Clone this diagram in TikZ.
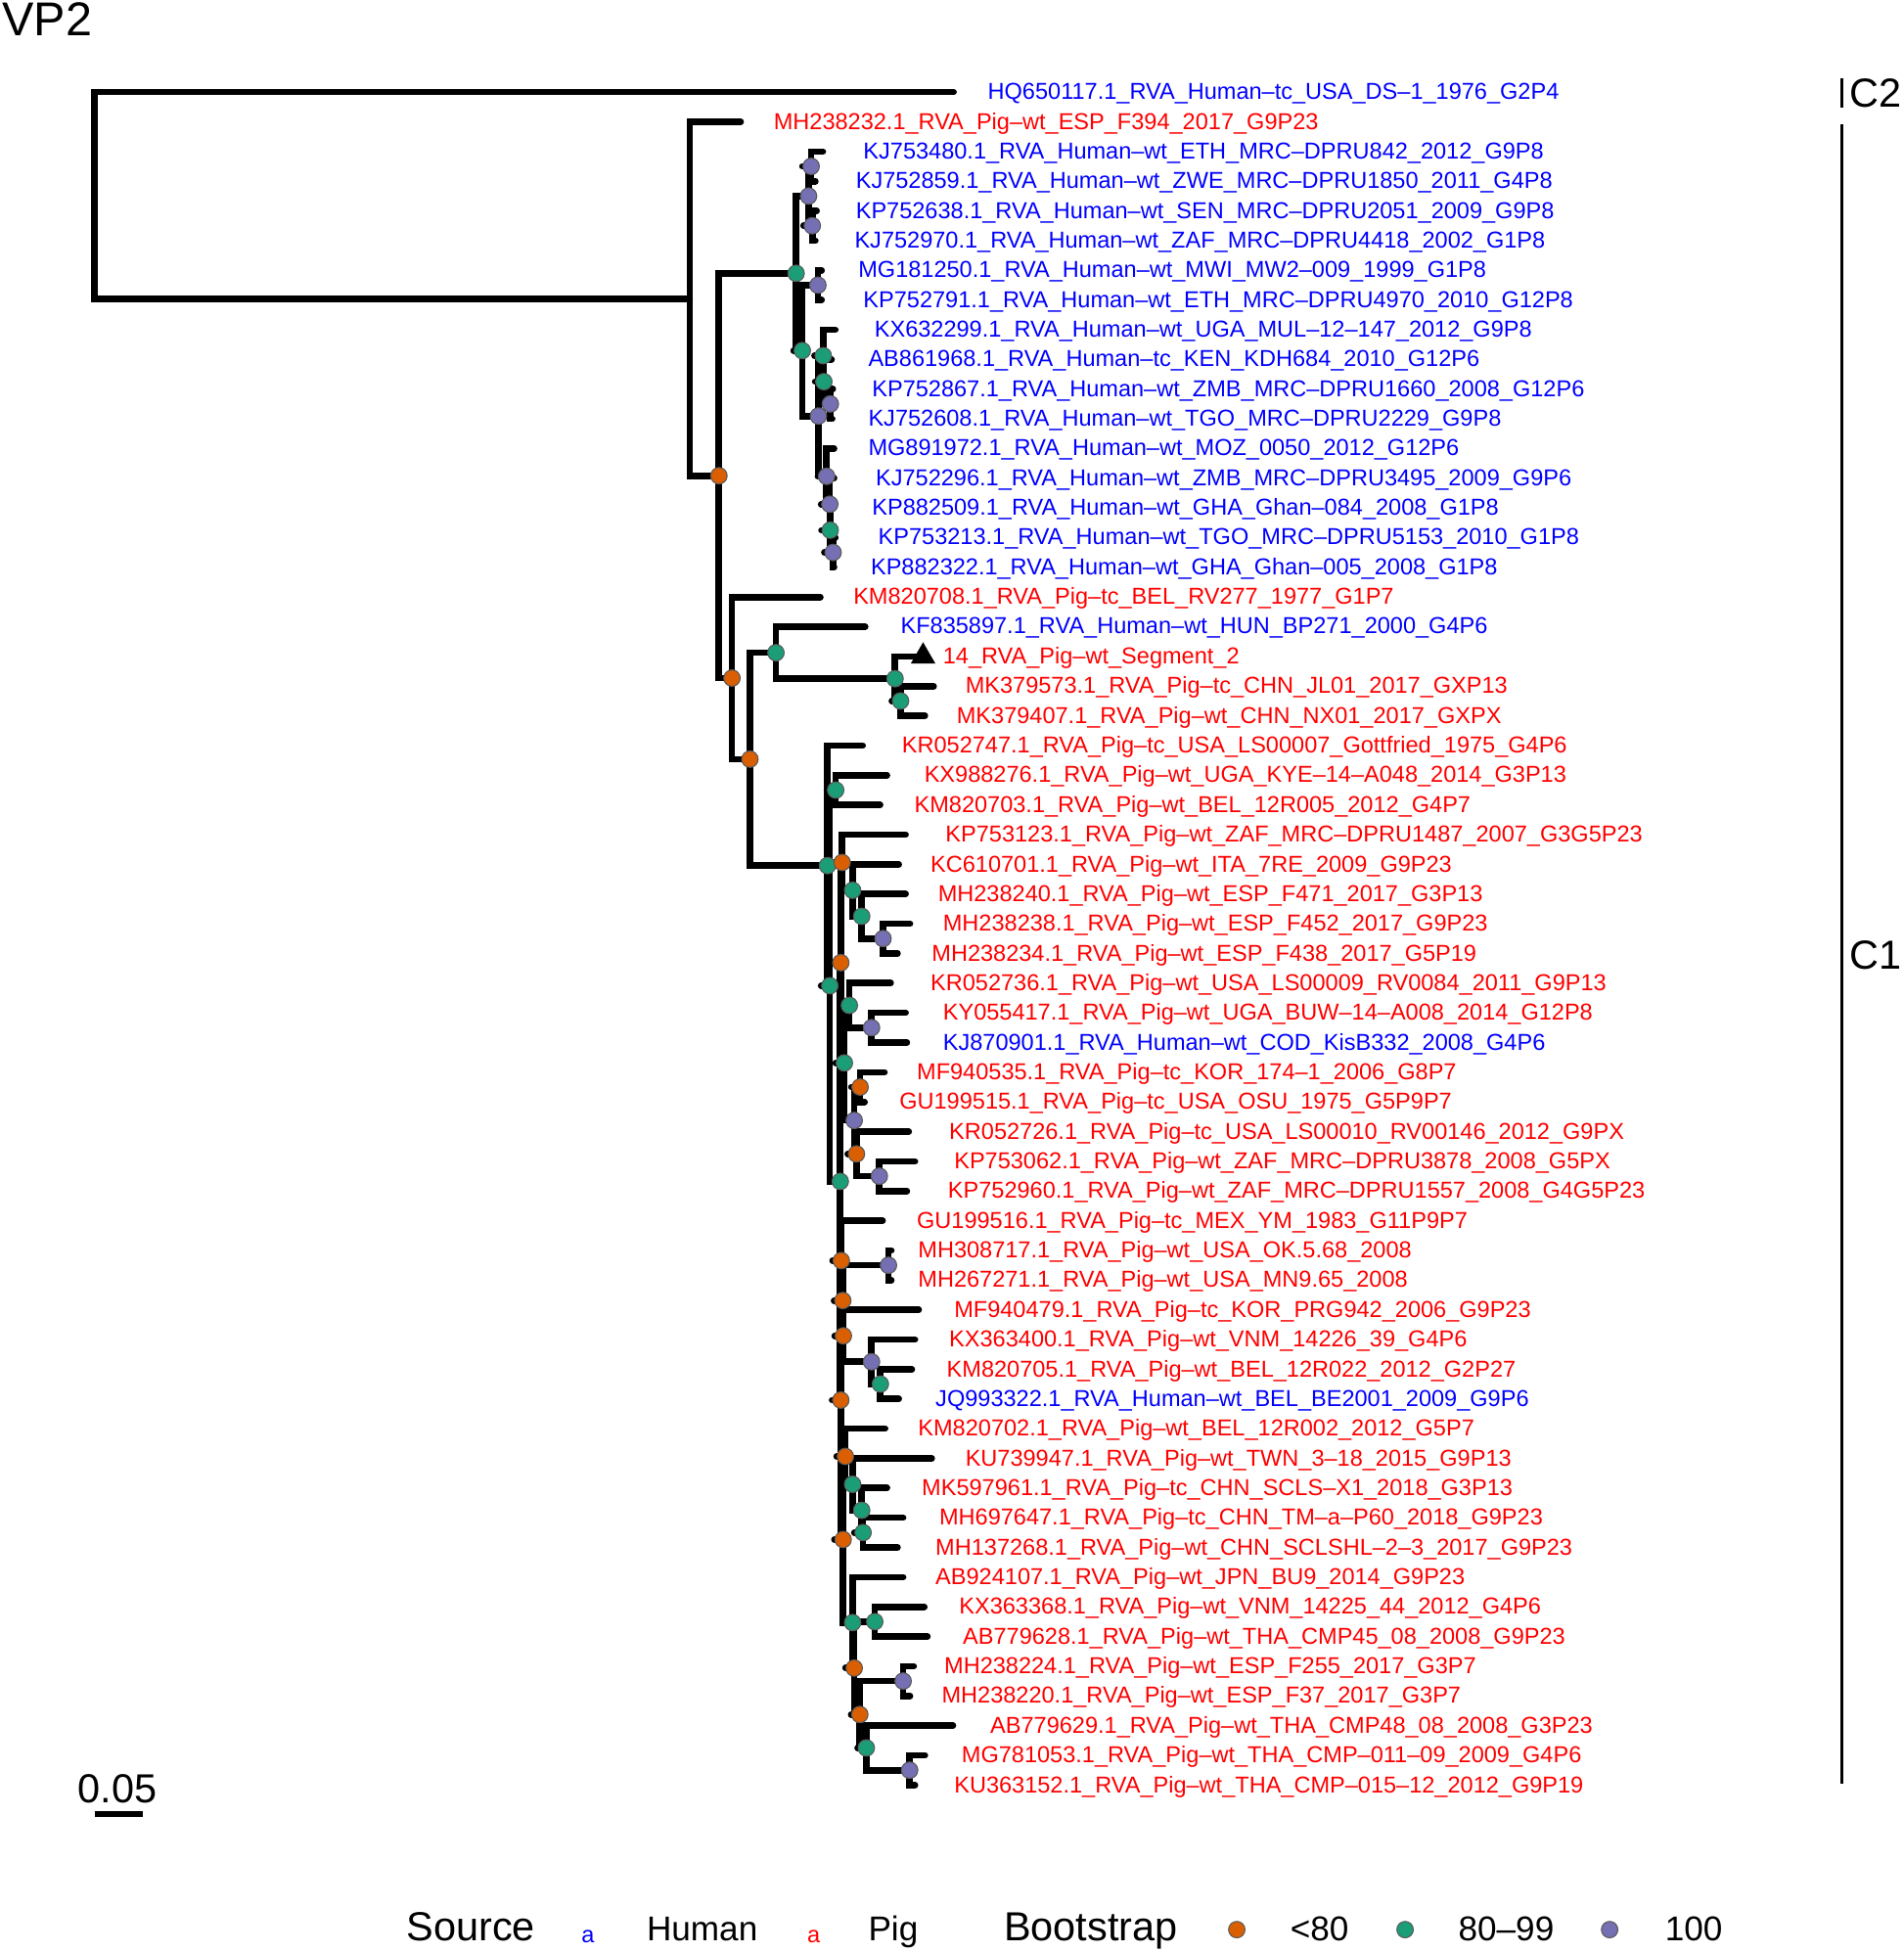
\documentclass[tikz,border=0pt]{standalone}
\usepackage{fontspec}
\setmainfont{Liberation Sans}
\usetikzlibrary{shapes.geometric,backgrounds}
\definecolor{bslow}{HTML}{D95F02}
\definecolor{bsmid}{HTML}{1B9E77}
\definecolor{bshigh}{HTML}{7570B3}

\begin{document}
\begin{tikzpicture}[x=0.012727cm, y=-0.012727cm,
    branch/.style={line width=1.9pt, line cap=round},
    boot/.style={circle, draw=black!65, line width=0.3pt, inner sep=0pt, minimum size=0.168cm},
    blow/.style={boot, fill=bslow},
    bmid/.style={boot, fill=bsmid},
    bhigh/.style={boot, fill=bshigh},
    tiplab/.style={anchor=west, inner sep=0pt, yshift=-0.45pt, font=\fontsize{6.7}{8}\selectfont},
    human/.style={tiplab, text=blue},
    pig/.style={tiplab, text=red},
    bigtext/.style={inner sep=0pt, font=\fontsize{11.8}{14}\selectfont},
    keylab/.style={inner sep=0pt, anchor=base west, font=\fontsize{10}{12}\selectfont}]
    \useasboundingbox (0,0) rectangle (1529,1568);

    % tips
    \path (766,74.0) coordinate (e1) ++(27,0) node[human] (t1) {HQ650117.1\_RVA\_Human--tc\_USA\_DS--1\_1976\_G2P4};
    \path (595,97.86) coordinate (e2) ++(26,0) node[pig] (t2) {MH238232.1\_RVA\_Pig--wt\_ESP\_F394\_2017\_G9P23};
    \path (661,121.71) coordinate (e3) ++(32,0) node[human] (t3) {KJ753480.1\_RVA\_Human--wt\_ETH\_MRC--DPRU842\_2012\_G9P8};
    \path (655,145.57) coordinate (e4) ++(32,0) node[human] (t4) {KJ752859.1\_RVA\_Human--wt\_ZWE\_MRC--DPRU1850\_2011\_G4P8};
    \path (656,169.43) coordinate (e5) ++(31,0) node[human] (t5) {KP752638.1\_RVA\_Human--wt\_SEN\_MRC--DPRU2051\_2009\_G9P8};
    \path (655,193.29) coordinate (e6) ++(31,0) node[human] (t6) {KJ752970.1\_RVA\_Human--wt\_ZAF\_MRC--DPRU4418\_2002\_G1P8};
    \path (660,217.14) coordinate (e7) ++(29,0) node[human] (t7) {MG181250.1\_RVA\_Human--wt\_MWI\_MW2--009\_1999\_G1P8};
    \path (660,241.0) coordinate (e8) ++(33,0) node[human] (t8) {KP752791.1\_RVA\_Human--wt\_ETH\_MRC--DPRU4970\_2010\_G12P8};
    \path (671,264.86) coordinate (e9) ++(31,0) node[human] (t9) {KX632299.1\_RVA\_Human--wt\_UGA\_MUL--12--147\_2012\_G9P8};
    \path (668,288.71) coordinate (e10) ++(29,0) node[human] (t10) {AB861968.1\_RVA\_Human--tc\_KEN\_KDH684\_2010\_G12P6};
    \path (669,312.57) coordinate (e11) ++(31,0) node[human] (t11) {KP752867.1\_RVA\_Human--wt\_ZMB\_MRC--DPRU1660\_2008\_G12P6};
    \path (668.5,336.43) coordinate (e12) ++(28.5,0) node[human] (t12) {KJ752608.1\_RVA\_Human--wt\_TGO\_MRC--DPRU2229\_G9P8};
    \path (670,360.29) coordinate (e13) ++(27,0) node[human] (t13) {MG891972.1\_RVA\_Human--wt\_MOZ\_0050\_2012\_G12P6};
    \path (670,384.14) coordinate (e14) ++(33,0) node[human] (t14) {KJ752296.1\_RVA\_Human--wt\_ZMB\_MRC--DPRU3495\_2009\_G9P6};
    \path (668,408.0) coordinate (e15) ++(32,0) node[human] (t15) {KP882509.1\_RVA\_Human--wt\_GHA\_Ghan--084\_2008\_G1P8};
    \path (671,431.86) coordinate (e16) ++(34,0) node[human] (t16) {KP753213.1\_RVA\_Human--wt\_TGO\_MRC--DPRU5153\_2010\_G1P8};
    \path (670,455.71) coordinate (e17) ++(29,0) node[human] (t17) {KP882322.1\_RVA\_Human--wt\_GHA\_Ghan--005\_2008\_G1P8};
    \path (659,479.57) coordinate (e18) ++(26,0) node[pig] (t18) {KM820708.1\_RVA\_Pig--tc\_BEL\_RV277\_1977\_G1P7};
    \path (695,503.43) coordinate (e19) ++(28,0) node[human] (t19) {KF835897.1\_RVA\_Human--wt\_HUN\_BP271\_2000\_G4P6};
    \path (741.5,527.29) coordinate (e20) ++(15.5,0) node[pig] (t20) {14\_RVA\_Pig--wt\_Segment\_2};
    \path (750,551.14) coordinate (e21) ++(25,0) node[pig] (t21) {MK379573.1\_RVA\_Pig--tc\_CHN\_JL01\_2017\_GXP13};
    \path (743,575.0) coordinate (e22) ++(25,0) node[pig] (t22) {MK379407.1\_RVA\_Pig--wt\_CHN\_NX01\_2017\_GXPX};
    \path (693,598.86) coordinate (e23) ++(31,0) node[pig] (t23) {KR052747.1\_RVA\_Pig--tc\_USA\_LS00007\_Gottfried\_1975\_G4P6};
    \path (712.5,622.71) coordinate (e24) ++(29.5,0) node[pig] (t24) {KX988276.1\_RVA\_Pig--wt\_UGA\_KYE--14--A048\_2014\_G3P13};
    \path (707,646.57) coordinate (e25) ++(27,0) node[pig] (t25) {KM820703.1\_RVA\_Pig--wt\_BEL\_12R005\_2012\_G4P7};
    \path (727.5,670.43) coordinate (e26) ++(31.5,0) node[pig] (t26) {KP753123.1\_RVA\_Pig--wt\_ZAF\_MRC--DPRU1487\_2007\_G3G5P23};
    \path (722,694.29) coordinate (e27) ++(25,0) node[pig] (t27) {KC610701.1\_RVA\_Pig--wt\_ITA\_7RE\_2009\_G9P23};
    \path (727.5,718.14) coordinate (e28) ++(25.5,0) node[pig] (t28) {MH238240.1\_RVA\_Pig--wt\_ESP\_F471\_2017\_G3P13};
    \path (731,742.0) coordinate (e29) ++(26,0) node[pig] (t29) {MH238238.1\_RVA\_Pig--wt\_ESP\_F452\_2017\_G9P23};
    \path (721,765.86) coordinate (e30) ++(27,0) node[pig] (t30) {MH238234.1\_RVA\_Pig--wt\_ESP\_F438\_2017\_G5P19};
    \path (715.5,789.71) coordinate (e31) ++(31.5,0) node[pig] (t31) {KR052736.1\_RVA\_Pig--wt\_USA\_LS00009\_RV0084\_2011\_G9P13};
    \path (727.5,813.57) coordinate (e32) ++(29.5,0) node[pig] (t32) {KY055417.1\_RVA\_Pig--wt\_UGA\_BUW--14--A008\_2014\_G12P8};
    \path (728.5,837.43) coordinate (e33) ++(28.5,0) node[human] (t33) {KJ870901.1\_RVA\_Human--wt\_COD\_KisB332\_2008\_G4P6};
    \path (710.5,861.29) coordinate (e34) ++(25.5,0) node[pig] (t34) {MF940535.1\_RVA\_Pig--tc\_KOR\_174--1\_2006\_G8P7};
    \path (694.5,885.14) coordinate (e35) ++(27.5,0) node[pig] (t35) {GU199515.1\_RVA\_Pig--tc\_USA\_OSU\_1975\_G5P9P7};
    \path (730,909.0) coordinate (e36) ++(32,0) node[pig] (t36) {KR052726.1\_RVA\_Pig--tc\_USA\_LS00010\_RV00146\_2012\_G9PX};
    \path (735,932.86) coordinate (e37) ++(31,0) node[pig] (t37) {KP753062.1\_RVA\_Pig--wt\_ZAF\_MRC--DPRU3878\_2008\_G5PX};
    \path (728.5,956.71) coordinate (e38) ++(32.5,0) node[pig] (t38) {KP752960.1\_RVA\_Pig--wt\_ZAF\_MRC--DPRU1557\_2008\_G4G5P23};
    \path (709,980.57) coordinate (e39) ++(27,0) node[pig] (t39) {GU199516.1\_RVA\_Pig--tc\_MEX\_YM\_1983\_G11P9P7};
    \path (716,1004.43) coordinate (e40) ++(21,0) node[pig] (t40) {MH308717.1\_RVA\_Pig--wt\_USA\_OK.5.68\_2008};
    \path (716,1028.29) coordinate (e41) ++(21,0) node[pig] (t41) {MH267271.1\_RVA\_Pig--wt\_USA\_MN9.65\_2008};
    \path (738,1052.14) coordinate (e42) ++(28,0) node[pig] (t42) {MF940479.1\_RVA\_Pig--tc\_KOR\_PRG942\_2006\_G9P23};
    \path (735,1076.0) coordinate (e43) ++(27,0) node[pig] (t43) {KX363400.1\_RVA\_Pig--wt\_VNM\_14226\_39\_G4P6};
    \path (732.5,1099.86) coordinate (e44) ++(27.5,0) node[pig] (t44) {KM820705.1\_RVA\_Pig--wt\_BEL\_12R022\_2012\_G2P27};
    \path (722,1123.71) coordinate (e45) ++(29,0) node[human] (t45) {JQ993322.1\_RVA\_Human--wt\_BEL\_BE2001\_2009\_G9P6};
    \path (711,1147.57) coordinate (e46) ++(26,0) node[pig] (t46) {KM820702.1\_RVA\_Pig--wt\_BEL\_12R002\_2012\_G5P7};
    \path (748.5,1171.43) coordinate (e47) ++(26.5,0) node[pig] (t47) {KU739947.1\_RVA\_Pig--wt\_TWN\_3--18\_2015\_G9P13};
    \path (712.5,1195.29) coordinate (e48) ++(27.5,0) node[pig] (t48) {MK597961.1\_RVA\_Pig--tc\_CHN\_SCLS--X1\_2018\_G3P13};
    \path (725.5,1219.14) coordinate (e49) ++(28.5,0) node[pig] (t49) {MH697647.1\_RVA\_Pig--tc\_CHN\_TM--a--P60\_2018\_G9P23};
    \path (721,1243.0) coordinate (e50) ++(30,0) node[pig] (t50) {MH137268.1\_RVA\_Pig--wt\_CHN\_SCLSHL--2--3\_2017\_G9P23};
    \path (725.5,1266.86) coordinate (e51) ++(25.5,0) node[pig] (t51) {AB924107.1\_RVA\_Pig--wt\_JPN\_BU9\_2014\_G9P23};
    \path (742.5,1290.71) coordinate (e52) ++(27.5,0) node[pig] (t52) {KX363368.1\_RVA\_Pig--wt\_VNM\_14225\_44\_2012\_G4P6};
    \path (745,1314.57) coordinate (e53) ++(28,0) node[pig] (t53) {AB779628.1\_RVA\_Pig--wt\_THA\_CMP45\_08\_2008\_G9P23};
    \path (734,1338.43) coordinate (e54) ++(24,0) node[pig] (t54) {MH238224.1\_RVA\_Pig--wt\_ESP\_F255\_2017\_G3P7};
    \path (731,1362.29) coordinate (e55) ++(25,0) node[pig] (t55) {MH238220.1\_RVA\_Pig--wt\_ESP\_F37\_2017\_G3P7};
    \path (765.5,1386.14) coordinate (e56) ++(29.5,0) node[pig] (t56) {AB779629.1\_RVA\_Pig--wt\_THA\_CMP48\_08\_2008\_G3P23};
    \path (743,1410.0) coordinate (e57) ++(29,0) node[pig] (t57) {MG781053.1\_RVA\_Pig--wt\_THA\_CMP--011--09\_2009\_G4P6};
    \path (735,1433.86) coordinate (e58) ++(31,0) node[pig] (t58) {KU363152.1\_RVA\_Pig--wt\_THA\_CMP--015--12\_2012\_G9P19};
    \node[regular polygon, regular polygon sides=3, fill=black, inner sep=0pt, minimum size=0.29cm] (tri20) at (e20) {};

    % internal nodes, dot = bootstrap class
    \coordinate (n1x58) at (76,157.0);
    \coordinate (n2x58) at (554,240.0);
    \node[blow] (n3x58) at (577.5,382.14) {};
    \node[bmid] (n3x17) at (639.5,219.57) {};
    \node[bhigh] (n3x6) at (649.5,157.5) {};
    \node[bhigh] (n3x4) at (651.6,133.64) {};
    \node[bhigh] (n5x6) at (652.5,181.36) {};
    \node[bmid] (n7x17) at (644.5,281.63) {};
    \node[bhigh] (n7x8) at (657,229.07) {};
    \node[bhigh] (n9x17) at (657.4,334.19) {};
    \node[bmid] (n9x12) at (661.3,285.73) {};
    \node[bmid] (n10x12) at (661.8,306.61) {};
    \node[bhigh] (n11x12) at (667,324.5) {};
    \node[bhigh] (n13x17) at (664,382.65) {};
    \node[bhigh] (n14x17) at (666.6,405.02) {};
    \node[bmid] (n15x17) at (666.9,425.89) {};
    \node[bhigh] (n16x17) at (669.2,443.79) {};
    \node[blow] (n18x58) at (588,544.7) {};
    \node[blow] (n19x58) at (602.4,609.82) {};
    \node[bmid] (n19x22) at (623.3,524.3) {};
    \node[bmid] (n20x22) at (719,545.18) {};
    \node[bmid] (n21x22) at (723.4,563.07) {};
    \node[bmid] (n23x58) at (664.7,695.34) {};
    \node[bmid] (n24x58) at (666.6,791.81) {};
    \node[bmid] (n24x25) at (671.3,634.64) {};
    \node[bmid] (n26x58) at (675,948.98) {};
    \node[blow] (n26x38) at (675.4,773.31) {};
    \node[blow] (n26x30) at (676.5,692.8) {};
    \node[bmid] (n27x30) at (684.9,715.16) {};
    \node[bmid] (n28x30) at (692.2,736.04) {};
    \node[bhigh] (n29x30) at (709.3,753.93) {};
    \node[bmid] (n31x38) at (678.3,853.83) {};
    \node[bmid] (n31x33) at (682.3,807.6) {};
    \node[bhigh] (n32x33) at (700.1,825.5) {};
    \node[bhigh] (n34x38) at (686.2,900.05) {};
    \node[blow] (n34x35) at (690.9,873.21) {};
    \node[blow] (n36x38) at (688,926.89) {};
    \node[bhigh] (n37x38) at (706.4,944.79) {};
    \node[blow] (n39x58) at (675.4,1124.65) {};
    \node[blow] (n39x45) at (675.8,1012.63) {};
    \node[blow] (n40x45) at (677,1044.69) {};
    \node[bhigh] (n40x41) at (713.7,1016.36) {};
    \node[blow] (n42x45) at (677.5,1073.02) {};
    \node[bhigh] (n43x45) at (700.1,1093.9) {};
    \node[bmid] (n44x45) at (707.2,1111.79) {};
    \node[blow] (n46x58) at (677.3,1236.67) {};
    \node[blow] (n46x50) at (679.1,1169.94) {};
    \node[bmid] (n47x50) at (684.9,1192.3) {};
    \node[bmid] (n48x50) at (692.2,1213.18) {};
    \node[bmid] (n49x50) at (693.3,1231.07) {};
    \node[bmid] (n51x58) at (684.9,1303.39) {};
    \node[blow] (n52x58) at (686.2,1339.92) {};
    \node[bmid] (n52x53) at (702.7,1302.64) {};
    \node[blow] (n54x58) at (690.7,1377.2) {};
    \node[bhigh] (n54x55) at (725.5,1350.36) {};
    \node[bmid] (n56x58) at (695.9,1404.04) {};
    \node[bhigh] (n57x58) at (730.7,1421.93) {};

    % branches
    \begin{scope}[on background layer]
    \draw[branch] (n1x58) |- (e1) (n1x58) |- (n2x58);
    \draw[branch] (n2x58) |- (e2) (n2x58) |- (n3x58);
    \draw[branch] (n3x58) |- (n3x17) (n3x58) |- (n18x58);
    \draw[branch] (n3x17) |- (n3x6) (n3x17) |- (n7x17);
    \draw[branch] (n3x6) |- (n3x4) (n3x6) |- (n5x6);
    \draw[branch] (n3x4) |- (e3) (n3x4) |- (e4);
    \draw[branch] (n5x6) |- (e5) (n5x6) |- (e6);
    \draw[branch] (n7x17) |- (n7x8) (n7x17) |- (n9x17);
    \draw[branch] (n7x8) |- (e7) (n7x8) |- (e8);
    \draw[branch] (n9x17) |- (n9x12) (n9x17) |- (n13x17);
    \draw[branch] (n9x12) |- (e9) (n9x12) |- (n10x12);
    \draw[branch] (n10x12) |- (e10) (n10x12) |- (n11x12);
    \draw[branch] (n11x12) |- (e11) (n11x12) |- (e12);
    \draw[branch] (n13x17) |- (e13) (n13x17) |- (n14x17);
    \draw[branch] (n14x17) |- (e14) (n14x17) |- (n15x17);
    \draw[branch] (n15x17) |- (e15) (n15x17) |- (n16x17);
    \draw[branch] (n16x17) |- (e16) (n16x17) |- (e17);
    \draw[branch] (n18x58) |- (e18) (n18x58) |- (n19x58);
    \draw[branch] (n19x58) |- (n19x22) (n19x58) |- (n23x58);
    \draw[branch] (n19x22) |- (e19) (n19x22) |- (n20x22);
    \draw[branch] (n20x22) |- (e20) (n20x22) |- (n21x22);
    \draw[branch] (n21x22) |- (e21) (n21x22) |- (e22);
    \draw[branch] (n23x58) |- (e23) (n23x58) |- (n24x58);
    \draw[branch] (n24x58) |- (n24x25) (n24x58) |- (n26x58);
    \draw[branch] (n24x25) |- (e24) (n24x25) |- (e25);
    \draw[branch] (n26x58) |- (n26x38) (n26x58) |- (n39x58);
    \draw[branch] (n26x38) |- (n26x30) (n26x38) |- (n31x38);
    \draw[branch] (n26x30) |- (e26) (n26x30) |- (n27x30);
    \draw[branch] (n27x30) |- (e27) (n27x30) |- (n28x30);
    \draw[branch] (n28x30) |- (e28) (n28x30) |- (n29x30);
    \draw[branch] (n29x30) |- (e29) (n29x30) |- (e30);
    \draw[branch] (n31x38) |- (n31x33) (n31x38) |- (n34x38);
    \draw[branch] (n31x33) |- (e31) (n31x33) |- (n32x33);
    \draw[branch] (n32x33) |- (e32) (n32x33) |- (e33);
    \draw[branch] (n34x38) |- (n34x35) (n34x38) |- (n36x38);
    \draw[branch] (n34x35) |- (e34) (n34x35) |- (e35);
    \draw[branch] (n36x38) |- (e36) (n36x38) |- (n37x38);
    \draw[branch] (n37x38) |- (e37) (n37x38) |- (e38);
    \draw[branch] (n39x58) |- (n39x45) (n39x58) |- (n46x58);
    \draw[branch] (n39x45) |- (e39) (n39x45) |- (n40x45);
    \draw[branch] (n40x45) |- (n40x41) (n40x45) |- (n42x45);
    \draw[branch] (n40x41) |- (e40) (n40x41) |- (e41);
    \draw[branch] (n42x45) |- (e42) (n42x45) |- (n43x45);
    \draw[branch] (n43x45) |- (e43) (n43x45) |- (n44x45);
    \draw[branch] (n44x45) |- (e44) (n44x45) |- (e45);
    \draw[branch] (n46x58) |- (n46x50) (n46x58) |- (n51x58);
    \draw[branch] (n46x50) |- (e46) (n46x50) |- (n47x50);
    \draw[branch] (n47x50) |- (e47) (n47x50) |- (n48x50);
    \draw[branch] (n48x50) |- (e48) (n48x50) |- (n49x50);
    \draw[branch] (n49x50) |- (e49) (n49x50) |- (e50);
    \draw[branch] (n51x58) |- (e51) (n51x58) |- (n52x58);
    \draw[branch] (n52x58) |- (n52x53) (n52x58) |- (n54x58);
    \draw[branch] (n52x53) |- (e52) (n52x53) |- (e53);
    \draw[branch] (n54x58) |- (n54x55) (n54x58) |- (n56x58);
    \draw[branch] (n54x55) |- (e54) (n54x55) |- (e55);
    \draw[branch] (n56x58) |- (e56) (n56x58) |- (n57x58);
    \draw[branch] (n57x58) |- (e57) (n57x58) |- (e58);
    \end{scope}

    % title, clades, scale
    \node[anchor=west, inner sep=0pt, font=\fontsize{13.8}{16}\selectfont] (title) at (1.5,15.5) {VP2};
    \draw[line width=0.95pt] (1479.5,62.9) -- (1479.5,86.4);
    \draw[line width=0.95pt] (1479.5,100) -- (1479.5,1433);
    \node[bigtext, anchor=west] (c2) at (1485,74.8) {C2};
    \node[bigtext, anchor=west] (c1) at (1485,767) {C1};
    \node[bigtext, anchor=base west] (scale) at (62,1448.4) {0.05};
    \draw[line width=1.6pt] (76,1457) -- (115,1457);

    % legend
    \node[bigtext, anchor=base west] (src) at (326,1559) {Source};
    \node[human, anchor=base, yshift=0pt] (ka1) at (472.3,1559) {a};
    \node[keylab] (khum) at (519,1559) {Human};
    \node[pig, anchor=base, yshift=0pt] (ka2) at (653.6,1559) {a};
    \node[keylab] (kpig) at (697,1559) {Pig};
    \node[bigtext, anchor=base west] (bts) at (806,1559) {Bootstrap};
    \node[blow] (klow) at (993.5,1550) {};
    \node[keylab] (llow) at (1036,1559) {<80};
    \node[bmid] (kmid) at (1128.7,1550) {};
    \node[keylab] (lmid) at (1171,1559) {80--99};
    \node[bhigh] (khigh) at (1293,1550) {};
    \node[keylab] (lhigh) at (1337,1559) {100};
\end{tikzpicture}
\end{document}
